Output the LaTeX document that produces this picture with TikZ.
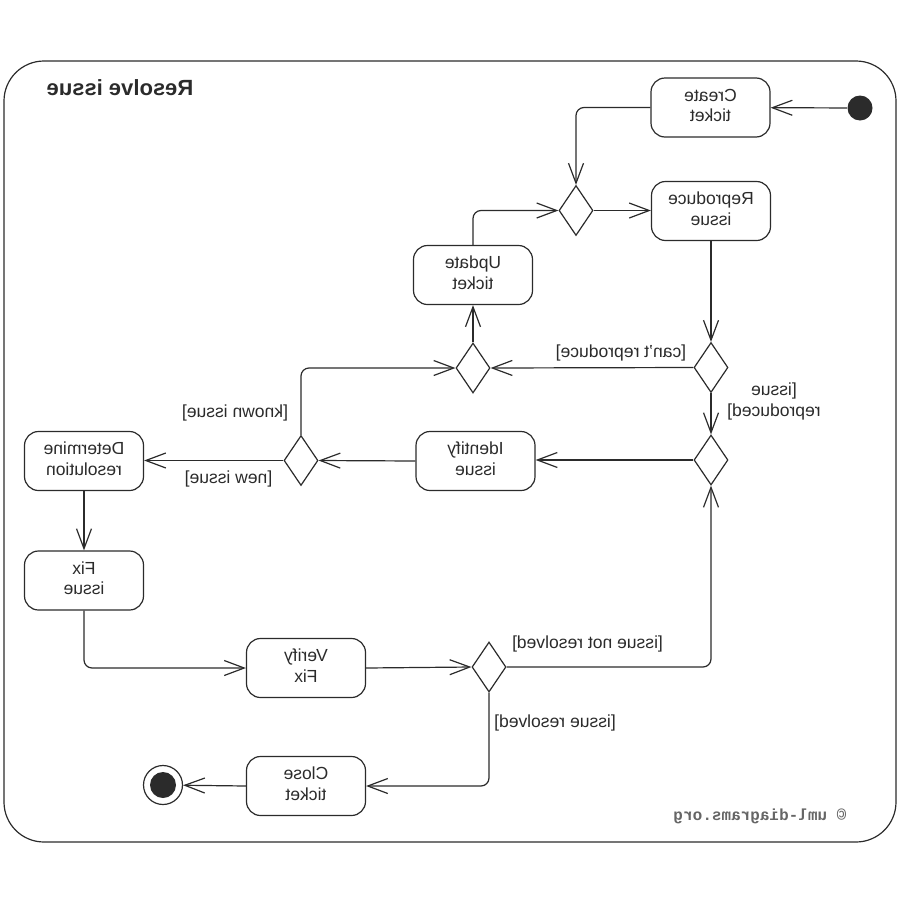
\documentclass[tikz,border=0pt]{standalone}
\usepackage{graphicx}
\usepackage{xcolor}
\usepackage{fontspec}
\setmainfont{Liberation Sans}
\newfontfamily\markfont{Liberation Mono}
\usetikzlibrary{shapes.geometric,arrows.meta}
\newcommand{\flip}[1]{\reflectbox{\begin{tabular}{@{}c@{}}#1\end{tabular}}}

\begin{document}
\begin{tikzpicture}[x=1pt,y=-1pt,line width=1.2pt,
  actbox/.style={draw,rounded corners=14pt,minimum width=119pt,minimum height=59pt,inner sep=0pt},
  choice/.style={draw,diamond,minimum width=34pt,minimum height=50pt,inner sep=0pt},
  flow/.style={-{Straight Barb[length=20pt,width=15pt]},rounded corners=8pt},
  guard/.style={inner sep=0pt},
  font=\fontsize{17.5}{20.5}\selectfont]
\definecolor{ink}{HTML}{2B2B2B}
\definecolor{markgray}{HTML}{666666}
\useasboundingbox (0,0) rectangle (900,900);
\draw[ink,rounded corners=40pt] (4,61) rectangle (896,842);
\node[ink,font=\fontsize{22}{26}\selectfont\bfseries] (title) at (120,88) {\reflectbox{Resolve issue}};
\node[markgray,font=\markfont\fontsize{16}{18}\selectfont\bfseries] (mark) at (760,816) {\reflectbox{\textcopyright{} uml-diagrams.org}};
  % actions
  \foreach \nm/\px/\py/\txt in {create/710.5/107.5/{Create\\ticket},
      reproduce/711/211/{Reproduce\\issue}, update/473/275/{Update\\ticket},
      identify/475.5/461/{Identify\\issue}, determine/84/461/{Determine\\resolution},
      fix/84/580.5/{Fix\\issue}, verify/306/668/{Verify\\Fix}, close/306/786/{Close\\ticket}}
  {  \node [actbox,ink] (\nm) at (\px,\py) {\flip{\txt}};}
  % merges and decisions
  \foreach \nm/\px/\py in {m1/576/210.5,d2/711/367.5,m3/473/368,d4/711/460,d6/301/460.5,d5/489/667}
  {  \node [choice,ink] (\nm) at (\px,\py) {};}
\node[circle,fill=ink,minimum size=25pt,inner sep=0pt] (init) at (860,108) {};
\node[circle,draw=ink,minimum size=39pt,inner sep=0pt] (final) at (163,785) {};
\fill[ink] (final.center) circle (13pt);
  % flows
\draw[flow,ink] (init) -- (create);
\draw[flow,ink] (create.west) -| (m1.north);
\draw[flow,ink] (m1.east) -- (m1.east -| reproduce.west);
\draw[flow,ink] (update.north) |- (m1.west);
\draw[flow,ink] (reproduce.south) -- (d2.north);
\draw[flow,ink] (d2.west) -- (m3.east);
\draw[flow,ink] (m3.north) -- (update.south);
\draw[flow,ink] (d2.south) -- (d4.north);
\draw[flow,ink] (d4.west) -- (d4.west -| identify.east);
\draw[flow,ink] (identify.west) -- (d6.east);
\draw[flow,ink] (d6.west) -- (d6.west -| determine.east);
\draw[flow,ink] (d6.north) |- (m3.west);
\draw[flow,ink] (determine.south) -- (fix.north);
\draw[flow,ink] (fix.south) |- (verify.west);
\draw[flow,ink] (verify.east) -- (d5.west);
\draw[flow,ink] (d5.east) -| (d4.south);
\draw[flow,ink] (d5.south) |- (close.east);
\draw[flow,ink] (close.west) -- (final);
  % guards
\node[guard,ink] (cant) at (621,353) {\reflectbox{[can't reproduce]}};
\node[guard,ink] (repro) at (774,402) {\flip{[issue\\reproduced]}};
\node[guard,ink] (known) at (235,413) {\reflectbox{[known issue]}};
\node[guard,ink] (newi) at (228.5,479) {\reflectbox{[new issue]}};
\node[guard,ink] (notres) at (587.5,644) {\reflectbox{[issue not resolved]}};
\node[guard,ink] (res) at (555,723) {\reflectbox{[issue resolved]}};
\end{tikzpicture}
\end{document}
